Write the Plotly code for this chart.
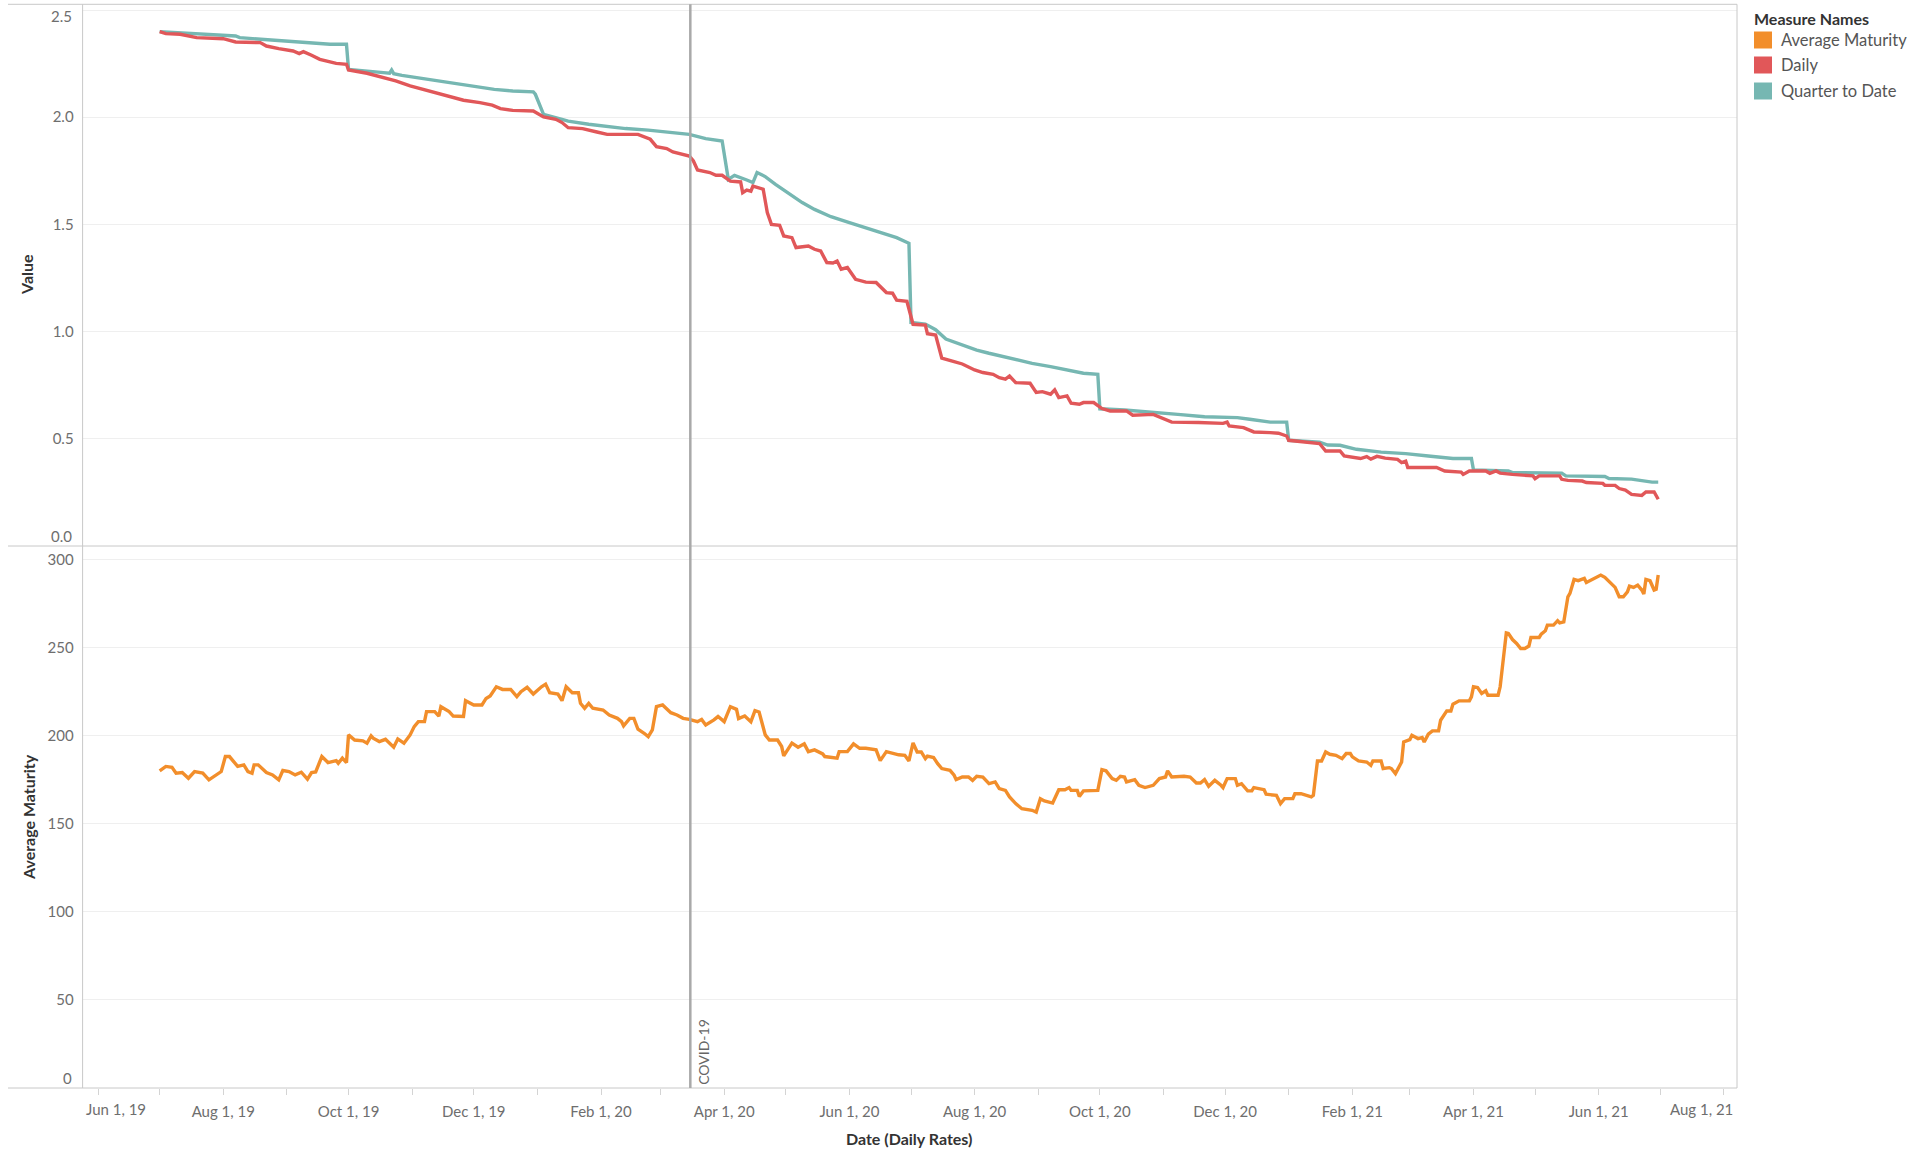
import plotly.graph_objects as go

# ---------------- data ----------------
daily_dates = [
    "2019-07-01", "2019-07-04", "2019-07-11", "2019-07-19", "2019-08-01", "2019-08-07", "2019-08-19",
    "2019-08-22", "2019-08-28", "2019-09-04", "2019-09-07", "2019-09-09", "2019-09-13", "2019-09-17",
    "2019-09-22", "2019-09-25", "2019-09-30", "2019-10-01", "2019-10-10", "2019-10-18", "2019-10-24",
    "2019-10-31", "2019-11-06", "2019-11-13", "2019-11-19", "2019-11-26", "2019-12-04", "2019-12-10",
    "2019-12-14", "2019-12-20", "2019-12-30", "2020-01-04", "2020-01-10", "2020-01-13", "2020-01-16",
    "2020-01-23", "2020-01-30", "2020-02-04", "2020-02-19", "2020-02-22", "2020-02-25", "2020-02-28",
    "2020-03-04", "2020-03-07", "2020-03-12", "2020-03-15", "2020-03-17", "2020-03-19", "2020-03-25",
    "2020-03-28", "2020-03-31", "2020-04-04", "2020-04-09", "2020-04-10", "2020-04-12", "2020-04-14",
    "2020-04-15", "2020-04-17", "2020-04-20", "2020-04-22", "2020-04-24", "2020-04-28", "2020-04-30",
    "2020-05-04", "2020-05-06", "2020-05-12", "2020-05-15", "2020-05-18", "2020-05-21", "2020-05-24",
    "2020-05-26", "2020-05-28", "2020-05-31", "2020-06-04", "2020-06-09", "2020-06-14", "2020-06-17",
    "2020-06-19", "2020-06-22", "2020-06-24", "2020-06-29", "2020-07-01", "2020-07-02", "2020-07-08",
    "2020-07-09", "2020-07-13", "2020-07-16", "2020-07-22", "2020-07-26", "2020-08-01", "2020-08-05",
    "2020-08-10", "2020-08-13", "2020-08-16", "2020-08-18", "2020-08-21", "2020-08-28", "2020-08-31",
    "2020-09-03", "2020-09-07", "2020-09-09", "2020-09-11", "2020-09-15", "2020-09-17", "2020-09-21",
    "2020-09-23", "2020-09-28", "2020-10-02", "2020-10-06", "2020-10-14", "2020-10-17", "2020-10-27",
    "2020-11-01", "2020-11-05", "2020-11-18", "2020-11-30", "2020-12-02", "2020-12-03", "2020-12-10",
    "2020-12-15", "2020-12-23", "2020-12-27", "2020-12-31", "2021-01-01", "2021-01-16", "2021-01-19",
    "2021-01-26", "2021-01-28", "2021-02-05", "2021-02-08", "2021-02-10", "2021-02-13", "2021-02-17",
    "2021-02-23", "2021-02-25", "2021-02-27", "2021-02-28", "2021-03-14", "2021-03-18", "2021-03-26",
    "2021-03-27", "2021-03-30", "2021-04-07", "2021-04-09", "2021-04-12", "2021-04-14", "2021-04-20",
    "2021-04-30", "2021-05-01", "2021-05-03", "2021-05-13", "2021-05-14", "2021-05-17", "2021-05-24",
    "2021-05-26", "2021-06-03", "2021-06-04", "2021-06-09", "2021-06-11", "2021-06-14", "2021-06-17",
    "2021-06-22", "2021-06-24", "2021-06-28", "2021-06-30",
]
daily_values = [
    2.399, 2.390, 2.387, 2.371, 2.366, 2.351, 2.348,
    2.332, 2.320, 2.309, 2.297, 2.306, 2.289, 2.270,
    2.258, 2.251, 2.247, 2.220, 2.205, 2.185, 2.169,
    2.146, 2.130, 2.115, 2.099, 2.079, 2.068, 2.056,
    2.040, 2.032, 2.029, 2.001, 1.990, 1.975, 1.951,
    1.947, 1.931, 1.920, 1.920, 1.908, 1.897, 1.863,
    1.854, 1.838, 1.827, 1.819, 1.796, 1.754, 1.742,
    1.729, 1.729, 1.702, 1.698, 1.648, 1.660, 1.655,
    1.679, 1.672, 1.664, 1.555, 1.500, 1.496, 1.446,
    1.438, 1.392, 1.399, 1.384, 1.376, 1.322, 1.320,
    1.329, 1.291, 1.299, 1.244, 1.231, 1.229, 1.200,
    1.182, 1.179, 1.147, 1.141, 1.070, 1.034, 1.030,
    0.990, 0.984, 0.876, 0.860, 0.849, 0.821, 0.809,
    0.801, 0.785, 0.778, 0.793, 0.762, 0.759, 0.716,
    0.720, 0.708, 0.728, 0.692, 0.700, 0.666, 0.661,
    0.669, 0.669, 0.641, 0.630, 0.630, 0.610, 0.614,
    0.594, 0.578, 0.576, 0.572, 0.578, 0.560, 0.552,
    0.532, 0.529, 0.526, 0.513, 0.493, 0.478, 0.443,
    0.443, 0.420, 0.408, 0.417, 0.405, 0.418, 0.410,
    0.404, 0.389, 0.396, 0.366, 0.366, 0.350, 0.345,
    0.334, 0.350, 0.350, 0.339, 0.350, 0.340, 0.334,
    0.327, 0.314, 0.327, 0.327, 0.311, 0.306, 0.303,
    0.296, 0.292, 0.283, 0.283, 0.268, 0.261, 0.241,
    0.236, 0.252, 0.252, 0.218,
]

qtd_dates = [
    "2019-07-01", "2019-07-20", "2019-08-07", "2019-08-09", "2019-08-25", "2019-09-09", "2019-09-22",
    "2019-09-30", "2019-10-01", "2019-10-18", "2019-10-21", "2019-10-22", "2019-10-23", "2019-10-27",
    "2019-11-03", "2019-11-13", "2019-11-19", "2019-11-26", "2019-12-05", "2019-12-11", "2019-12-20",
    "2019-12-30", "2019-12-31", "2020-01-04", "2020-01-13", "2020-01-16", "2020-01-26", "2020-02-05",
    "2020-02-13", "2020-02-24", "2020-03-04", "2020-03-15", "2020-03-23", "2020-03-31", "2020-04-03",
    "2020-04-06", "2020-04-12", "2020-04-15", "2020-04-17", "2020-04-21", "2020-04-26", "2020-05-02",
    "2020-05-09", "2020-05-15", "2020-05-23", "2020-06-01", "2020-06-09", "2020-06-17", "2020-06-24",
    "2020-06-30", "2020-07-01", "2020-07-08", "2020-07-13", "2020-07-18", "2020-07-26", "2020-08-02",
    "2020-08-08", "2020-08-15", "2020-08-21", "2020-08-29", "2020-09-07", "2020-09-15", "2020-09-23",
    "2020-09-30", "2020-10-01", "2020-10-13", "2020-10-26", "2020-11-08", "2020-11-21", "2020-12-07",
    "2020-12-13", "2020-12-23", "2020-12-31", "2021-01-01", "2021-01-16", "2021-01-20", "2021-01-26",
    "2021-01-30", "2021-02-03", "2021-02-15", "2021-02-27", "2021-03-10", "2021-03-22", "2021-03-31",
    "2021-04-01", "2021-04-18", "2021-04-20", "2021-05-14", "2021-05-16", "2021-06-04", "2021-06-06",
    "2021-06-17", "2021-06-27", "2021-06-30",
]
qtd_values = [
    2.399, 2.387, 2.379, 2.371, 2.360, 2.351, 2.340,
    2.340, 2.223, 2.208, 2.205, 2.220, 2.203, 2.195,
    2.185, 2.169, 2.161, 2.150, 2.138, 2.130, 2.122,
    2.118, 2.107, 2.013, 1.990, 1.982, 1.967, 1.956,
    1.947, 1.940, 1.931, 1.920, 1.900, 1.889, 1.710,
    1.729, 1.707, 1.695, 1.742, 1.723, 1.687, 1.648,
    1.602, 1.570, 1.536, 1.508, 1.485, 1.459, 1.438,
    1.412, 1.043, 1.035, 1.009, 0.965, 0.936, 0.914,
    0.899, 0.883, 0.868, 0.852, 0.837, 0.821, 0.806,
    0.801, 0.640, 0.634, 0.625, 0.614, 0.603, 0.599,
    0.591, 0.578, 0.578, 0.493, 0.484, 0.471, 0.470,
    0.459, 0.451, 0.438, 0.431, 0.420, 0.408, 0.408,
    0.355, 0.350, 0.342, 0.340, 0.327, 0.324, 0.315,
    0.312, 0.298, 0.298,
]

maturity_dates = [
    "2019-07-01", "2019-07-04", "2019-07-07", "2019-07-09", "2019-07-12", "2019-07-15", "2019-07-18",
    "2019-07-22", "2019-07-25", "2019-07-29", "2019-07-31", "2019-08-02", "2019-08-04", "2019-08-08",
    "2019-08-11", "2019-08-13", "2019-08-15", "2019-08-16", "2019-08-18", "2019-08-22", "2019-08-25",
    "2019-08-28", "2019-08-30", "2019-09-02", "2019-09-05", "2019-09-08", "2019-09-11", "2019-09-13",
    "2019-09-15", "2019-09-18", "2019-09-21", "2019-09-25", "2019-09-26", "2019-09-28", "2019-09-30",
    "2019-10-01", "2019-10-04", "2019-10-08", "2019-10-10", "2019-10-12", "2019-10-13", "2019-10-16",
    "2019-10-19", "2019-10-23", "2019-10-25", "2019-10-28", "2019-10-31", "2019-11-02", "2019-11-04",
    "2019-11-07", "2019-11-08", "2019-11-12", "2019-11-14", "2019-11-15", "2019-11-19", "2019-11-21",
    "2019-11-26", "2019-11-27", "2019-12-01", "2019-12-05", "2019-12-07", "2019-12-09", "2019-12-12",
    "2019-12-15", "2019-12-19", "2019-12-22", "2019-12-24", "2019-12-27", "2019-12-30", "2020-01-03",
    "2020-01-05", "2020-01-07", "2020-01-11", "2020-01-13", "2020-01-15", "2020-01-18", "2020-01-21",
    "2020-01-22", "2020-01-24", "2020-01-26", "2020-01-28", "2020-02-02", "2020-02-05", "2020-02-09",
    "2020-02-11", "2020-02-12", "2020-02-15", "2020-02-17", "2020-02-19", "2020-02-22", "2020-02-24",
    "2020-02-26", "2020-02-28", "2020-03-02", "2020-03-06", "2020-03-09", "2020-03-12", "2020-03-15",
    "2020-03-19", "2020-03-21", "2020-03-23", "2020-03-27", "2020-03-29", "2020-04-01", "2020-04-04",
    "2020-04-07", "2020-04-08", "2020-04-11", "2020-04-14", "2020-04-16", "2020-04-18", "2020-04-21",
    "2020-04-23", "2020-04-27", "2020-04-29", "2020-04-30", "2020-05-04", "2020-05-07", "2020-05-10",
    "2020-05-12", "2020-05-15", "2020-05-19", "2020-05-20", "2020-05-26", "2020-05-27", "2020-05-31",
    "2020-06-03", "2020-06-06", "2020-06-09", "2020-06-14", "2020-06-16", "2020-06-19", "2020-06-25",
    "2020-06-28", "2020-06-30", "2020-07-02", "2020-07-04", "2020-07-06", "2020-07-08", "2020-07-09",
    "2020-07-12", "2020-07-14", "2020-07-16", "2020-07-20", "2020-07-22", "2020-07-23", "2020-07-26",
    "2020-07-29", "2020-07-31", "2020-08-02", "2020-08-05", "2020-08-08", "2020-08-11", "2020-08-13",
    "2020-08-16", "2020-08-18", "2020-08-21", "2020-08-24", "2020-08-29", "2020-08-31", "2020-09-02",
    "2020-09-04", "2020-09-08", "2020-09-11", "2020-09-14", "2020-09-16", "2020-09-17", "2020-09-20",
    "2020-09-21", "2020-09-23", "2020-09-27", "2020-09-30", "2020-10-02", "2020-10-04", "2020-10-07",
    "2020-10-09", "2020-10-11", "2020-10-13", "2020-10-14", "2020-10-18", "2020-10-20", "2020-10-23",
    "2020-10-27", "2020-10-30", "2020-11-02", "2020-11-03", "2020-11-05", "2020-11-11", "2020-11-14",
    "2020-11-17", "2020-11-19", "2020-11-21", "2020-11-23", "2020-11-26", "2020-11-29", "2020-11-30",
    "2020-12-02", "2020-12-06", "2020-12-07", "2020-12-09", "2020-12-12", "2020-12-14", "2020-12-15",
    "2020-12-20", "2020-12-21", "2020-12-26", "2020-12-28", "2020-12-30", "2021-01-03", "2021-01-04",
    "2021-01-07", "2021-01-09", "2021-01-12", "2021-01-13", "2021-01-15", "2021-01-17", "2021-01-19",
    "2021-01-21", "2021-01-24", "2021-01-27", "2021-01-29", "2021-01-31", "2021-02-01", "2021-02-04",
    "2021-02-08", "2021-02-10", "2021-02-11", "2021-02-15", "2021-02-16", "2021-02-19", "2021-02-20",
    "2021-02-22", "2021-02-25", "2021-02-26", "2021-03-01", "2021-03-02", "2021-03-05", "2021-03-07",
    "2021-03-08", "2021-03-10", "2021-03-12", "2021-03-15", "2021-03-16", "2021-03-19", "2021-03-21",
    "2021-03-22", "2021-03-25", "2021-03-30", "2021-03-31", "2021-04-01", "2021-04-03", "2021-04-05",
    "2021-04-07", "2021-04-08", "2021-04-12", "2021-04-13", "2021-04-14", "2021-04-16", "2021-04-17",
    "2021-04-18", "2021-04-20", "2021-04-22", "2021-04-24", "2021-04-26", "2021-04-28", "2021-04-29",
    "2021-05-03", "2021-05-04", "2021-05-06", "2021-05-07", "2021-05-10", "2021-05-12", "2021-05-13",
    "2021-05-15", "2021-05-17", "2021-05-18", "2021-05-20", "2021-05-22", "2021-05-25", "2021-05-26",
    "2021-05-30", "2021-06-02", "2021-06-04", "2021-06-05", "2021-06-07", "2021-06-09", "2021-06-11",
    "2021-06-13", "2021-06-15", "2021-06-16", "2021-06-18", "2021-06-20", "2021-06-22", "2021-06-23",
    "2021-06-24", "2021-06-26", "2021-06-28", "2021-06-29", "2021-06-30",
]
maturity_values = [
    180.0, 182.5, 182.0, 178.7, 179.0, 175.8, 179.6,
    178.7, 174.9, 177.7, 179.6, 188.1, 188.1, 182.5,
    183.4, 179.6, 178.7, 183.4, 183.4, 179.0, 177.7,
    174.9, 180.2, 179.6, 177.7, 179.2, 175.3, 179.0,
    179.4, 188.1, 184.7, 185.8, 184.3, 187.2, 184.7,
    200.4, 197.5, 197.0, 195.7, 199.8, 198.5, 196.6,
    197.9, 193.4, 198.1, 195.7, 200.4, 205.1, 207.9,
    207.9, 213.6, 213.6, 211.1, 216.4, 213.6, 211.1,
    210.8, 219.8, 217.4, 217.4, 221.1, 222.5, 227.7,
    226.2, 226.2, 222.1, 224.9, 227.4, 223.6, 227.7,
    229.2, 224.3, 223.6, 219.8, 227.7, 224.3, 224.3,
    218.3, 215.5, 218.3, 215.5, 214.5, 211.7, 209.8,
    207.9, 205.5, 209.8, 209.8, 203.6, 201.3, 199.4,
    203.2, 216.4, 217.4, 213.0, 211.7, 209.8, 209.2,
    207.9, 209.2, 206.0, 208.9, 210.8, 207.9, 216.4,
    214.9, 209.6, 211.1, 207.9, 214.2, 213.4, 200.4,
    197.5, 197.5, 193.8, 188.5, 195.7, 193.4, 195.3,
    190.9, 191.9, 189.6, 188.1, 187.2, 190.9, 190.9,
    195.3, 192.8, 192.8, 191.9, 185.8, 190.9, 189.1,
    188.8, 185.6, 195.8, 190.7, 190.7, 186.9, 188.3,
    187.5, 184.1, 181.3, 180.3, 177.5, 175.0, 176.5,
    176.5, 174.6, 176.9, 176.5, 172.7, 173.7, 169.9,
    168.9, 165.2, 161.4, 158.5, 157.6, 156.6, 164.2,
    162.9, 161.7, 169.3, 169.3, 170.5, 168.9, 168.9,
    165.5, 168.6, 168.9, 168.9, 180.7, 180.0, 175.6,
    174.6, 176.9, 176.5, 173.7, 175.0, 171.8, 170.5,
    171.8, 175.6, 176.5, 180.0, 176.5, 176.9, 176.5,
    173.1, 173.1, 175.0, 171.2, 174.6, 171.8, 170.5,
    175.6, 175.6, 171.8, 172.7, 168.6, 168.6, 170.5,
    169.3, 166.7, 166.1, 161.4, 164.2, 164.2, 167.0,
    167.0, 166.1, 165.2, 166.1, 185.6, 185.6, 190.7,
    189.4, 188.8, 186.9, 189.8, 189.8, 187.9, 185.6,
    185.0, 183.1, 185.6, 185.6, 181.3, 181.8, 181.3,
    178.4, 185.0, 196.4, 197.7, 200.2, 198.3, 198.9,
    196.4, 200.8, 202.7, 202.7, 208.7, 214.0, 214.0,
    217.8, 219.7, 219.7, 222.0, 227.7, 227.3, 223.9,
    225.4, 222.9, 222.9, 222.9, 227.7, 248.5, 258.3,
    258.0, 254.5, 252.3, 249.4, 249.4, 250.8, 255.7,
    255.7, 257.6, 259.5, 262.7, 262.7, 265.2, 264.0,
    264.6, 278.8, 280.7, 288.6, 287.9, 289.2, 286.9,
    289.2, 291.1, 289.8, 288.6, 286.4, 284.1, 278.8,
    278.8, 281.6, 284.8, 284.1, 285.4, 282.6, 280.3,
    288.6, 287.9, 282.6, 283.0, 291.1,
]

value_ticks = [0.0, 0.5, 1.0, 1.5, 2.0, 2.5]
value_tick_text = ["", "0.5", "1.0", "1.5", "2.0", ""]
maturity_ticks = [0, 50, 100, 150, 200, 250, 300]
maturity_tick_text = ["", "50", "100", "150", "200", "250", "300"]
month_ticks = [
    "2019-06-01", "2019-07-01", "2019-08-01", "2019-09-01", "2019-10-01", "2019-11-01", "2019-12-01",
    "2020-01-01", "2020-02-01", "2020-03-01", "2020-04-01", "2020-05-01", "2020-06-01", "2020-07-01",
    "2020-08-01", "2020-09-01", "2020-10-01", "2020-11-01", "2020-12-01", "2021-01-01", "2021-02-01",
    "2021-03-01", "2021-04-01", "2021-05-01", "2021-06-01", "2021-07-01", "2021-08-01",
]
month_tick_text = [
    "", "", "Aug 1, 19", "", "Oct 1, 19", "", "Dec 1, 19",
    "", "Feb 1, 20", "", "Apr 1, 20", "", "Jun 1, 20", "",
    "Aug 1, 20", "", "Oct 1, 20", "", "Dec 1, 20", "", "Feb 1, 21",
    "", "Apr 1, 21", "", "Jun 1, 21", "", "",
]
covid_date = "2020-03-15 12:00"
legend_names = ["Average Maturity", "Daily", "Quarter to Date"]

# ---------------- styling ----------------
W, H = 1927, 1151
FONT = "Lato, 'Open Sans', sans-serif"
C_ORANGE, C_RED, C_TEAL = "#F28E2B", "#E15759", "#76B7B2"
GRID = "#efefef"
FRAME = "#c8c8c8"
TICK_C = "#6e6e6e"
TITLE_C = "#333333"


def px(xp):
    return xp / W


def py(yp):
    return 1 - yp / H


fig = go.Figure()
fig.add_trace(go.Scatter(x=maturity_dates, y=maturity_values, mode="lines", name="Average Maturity",
                         line=dict(color=C_ORANGE, width=3.4), xaxis="x", yaxis="y"))
fig.add_trace(go.Scatter(x=qtd_dates, y=qtd_values, mode="lines", name="Quarter to Date",
                         line=dict(color=C_TEAL, width=3.4), xaxis="x", yaxis="y2"))
fig.add_trace(go.Scatter(x=daily_dates, y=daily_values, mode="lines", name="Daily",
                         line=dict(color=C_RED, width=3.4), xaxis="x", yaxis="y2"))

shapes = []
# frame lines
for yy in (4.3, 546, 1088):
    shapes.append(dict(type="line", xref="paper", yref="paper", x0=px(8), x1=px(1737), y0=py(yy), y1=py(yy),
                       line=dict(color=FRAME, width=1)))
for xx in (82.6, 1737):
    shapes.append(dict(type="line", xref="paper", yref="paper", x0=px(xx), x1=px(xx), y0=py(4.3), y1=py(1088),
                       line=dict(color=FRAME, width=1)))
# COVID-19 reference line
shapes.append(dict(type="line", xref="x", yref="paper", x0=covid_date, x1=covid_date, y0=py(1088), y1=py(4.3),
                   line=dict(color="#a9a9a9", width=2.5)))
# legend swatches
sw_rows = [(31.5, 48.5, C_ORANGE), (56.5, 73.5, C_RED), (82.5, 99.5, C_TEAL)]
for y0, y1, c in sw_rows:
    shapes.append(dict(type="rect", xref="paper", yref="paper", x0=px(1754), x1=px(1772), y0=py(y1), y1=py(y0),
                       line=dict(width=0), fillcolor=c))

ann = []


def text(x, y, s, size=15, color=TICK_C, xanchor="center", angle=0, weight="normal"):
    ann.append(dict(x=px(x), y=py(y), xref="paper", yref="paper", text=s, showarrow=False,
                    xanchor=xanchor, yanchor="middle", textangle=angle,
                    font=dict(family=FONT, size=size, color=color, weight=weight)))


text(74, 16.4, "2.5", xanchor="right")
text(74, 535.7, "0.0", xanchor="right")
text(74, 1078, "0", xanchor="right")
text(116, 1109, "Jun 1, 19")
text(1701, 1109, "Aug 1, 21")
text(27, 275, "Value", size=16, color=TITLE_C, angle=-90, weight="bold")
text(28, 817, "Average Maturity", size=16, color=TITLE_C, angle=-90, weight="bold")
text(909, 1138, "Date (Daily Rates)", size=16, color=TITLE_C, weight="bold")
text(1752, 18.6, "Measure Names", size=16, color=TITLE_C, xanchor="left", weight="bold")
for (y0, y1, c), name in zip(sw_rows, legend_names):
    text(1779, (y0 + y1) / 2, name, size=16.5, color="#555555", xanchor="left")
# COVID-19 label
ann.append(dict(x=covid_date, y=py(1052), xref="x", yref="paper", text="COVID-19", showarrow=False,
                xshift=12.5, textangle=-90, xanchor="center", yanchor="middle",
                font=dict(family=FONT, size=14, color="#666666")))

fig.update_layout(
    width=W, height=H,
    margin=dict(l=0, r=0, t=0, b=0),
    paper_bgcolor="white", plot_bgcolor="white",
    showlegend=False,
    font=dict(family=FONT, size=15, color=TICK_C),
    xaxis=dict(domain=[px(82.6), px(1737)], range=["2019-05-24 11:00", "2021-08-07 09:00"], type="date",
               anchor="y", tickmode="array", tickvals=month_ticks, ticktext=month_tick_text,
               ticks="outside", ticklen=6, tickcolor="#d4d4d4", tickwidth=1, showgrid=False,
               showline=False, zeroline=False, tickfont=dict(family=FONT, size=15, color=TICK_C),
               ticklabelstandoff=4),
    yaxis=dict(domain=[py(1088), py(546)], range=[0, 307.6], tickmode="array", tickvals=maturity_ticks,
               ticktext=maturity_tick_text, showgrid=True, gridcolor=GRID, gridwidth=1, zeroline=False,
               showline=False, ticks="", tickfont=dict(family=FONT, size=15, color=TICK_C),
               ticklabelstandoff=8, anchor="x"),
    yaxis2=dict(domain=[py(546), py(4.3)], range=[0, 2.5266], tickmode="array", tickvals=value_ticks,
                ticktext=value_tick_text, showgrid=True, gridcolor=GRID, gridwidth=1, zeroline=False,
                showline=False, ticks="", tickfont=dict(family=FONT, size=15, color=TICK_C),
                ticklabelstandoff=8, anchor="x"),
    shapes=shapes,
    annotations=ann,
)

# remove the default page margin so the figure sits at the window's top-left corner
fig.write_html("out.html", config={"displayModeBar": False},
               post_script="document.body.style.margin='0';document.body.style.overflow='hidden';")
